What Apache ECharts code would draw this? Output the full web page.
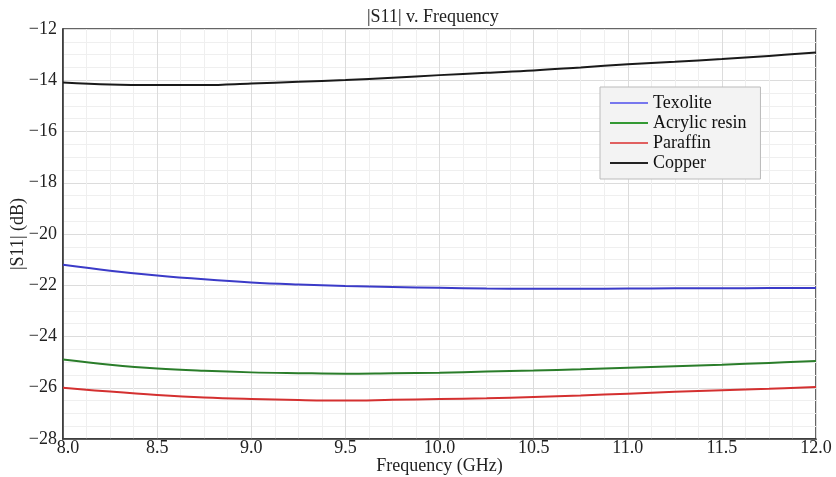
<!DOCTYPE html>
<html>
<head>
<meta charset="utf-8">
<script src="https://cdn.jsdelivr.net/npm/echarts@6/dist/echarts.min.js"></script>
<style>html,body{margin:0;padding:0;background:#fff}#c{width:836px;height:477px}</style>
</head>
<body>
<div id="c"></div>
<script>
const freq = [8.0, 8.25, 8.5, 8.75, 9.0, 9.25, 9.5, 9.75, 10.0, 10.25, 10.5, 10.75, 11.0, 11.25, 11.5, 11.75, 12.0];
const texolite = [-21.2, -21.43, -21.62, -21.77, -21.89, -21.97, -22.03, -22.07, -22.1, -22.13, -22.14, -22.14, -22.13, -22.12, -22.12, -22.11, -22.11];
const acrylic = [-24.9, -25.1, -25.25, -25.34, -25.4, -25.43, -25.45, -25.43, -25.41, -25.37, -25.33, -25.28, -25.22, -25.16, -25.1, -25.03, -24.96];
const paraffin = [-26.0, -26.15, -26.28, -26.38, -26.44, -26.48, -26.5, -26.47, -26.44, -26.41, -26.36, -26.3, -26.23, -26.16, -26.1, -26.04, -25.97];
const copper = [-14.09, -14.17, -14.19, -14.19, -14.13, -14.06, -13.99, -13.9, -13.8, -13.71, -13.62, -13.5, -13.38, -13.28, -13.17, -13.05, -12.92];
const seriesNames = ['Texolite', 'Acrylic resin', 'Paraffin', 'Copper'];
const seriesValues = [texolite, acrylic, paraffin, copper];
const lineColors = ['#3b3bc8', '#2a7d2a', '#d43030', '#1a1a1a'];
const legendColors = ['#7777ee', '#339933', '#e06060', '#222222'];

const FONT = '"Liberation Serif", "DejaVu Serif", serif';
const chart = echarts.init(document.getElementById('c'));
chart.setOption({
  animation: false,
  backgroundColor: '#fff',
  title: {
    text: '|S11| v. Frequency', left: 362, top: 3,
    textStyle: { fontFamily: FONT, fontSize: 18, fontWeight: 'normal', color: '#222' }
  },
  legend: {
    orient: 'vertical', left: 600, top: 87,
    padding: [7, 14, 7, 10],
    backgroundColor: '#f3f3f3', borderColor: '#bbbbbb', borderWidth: 1,
    icon: 'rect', itemWidth: 38, itemHeight: 2, itemGap: 2,
    textStyle: { fontFamily: FONT, fontSize: 18, color: '#111', lineHeight: 18 },
    data: seriesNames.map((n, i) => ({ name: n, itemStyle: { color: legendColors[i] } }))
  },
  grid: { left: 63, right: 20, top: 29, bottom: 38, outerBoundsMode: 'none', containLabel: false, show: true, borderColor: '#333', borderWidth: 1.5, backgroundColor: 'transparent' },
  xAxis: {
    type: 'value', min: 8, max: 12, interval: 0.5,
    name: 'Frequency (GHz)', nameLocation: 'middle', nameGap: 18, nameMoveOverlap: false,
    nameTextStyle: { fontFamily: FONT, fontSize: 18, color: '#222' },
    axisLine: { show: true, lineStyle: { color: '#333', width: 1.5 } },
    axisTick: { show: false },
    axisLabel: {
      margin: 0, fontFamily: FONT, fontSize: 18, color: '#222',
      formatter: v => v === 8 ? '{f|8.0}' : v.toFixed(1),
      rich: { f: { fontFamily: FONT, fontSize: 18, color: '#222', padding: [0, 0, 0, 10] } }
    },
    splitLine: { show: true, lineStyle: { color: '#dcdcdc', width: 1 } },
    minorTick: { show: false, splitNumber: 4 },
    minorSplitLine: { show: true, lineStyle: { color: '#efefef', width: 1 } }
  },
  yAxis: {
    type: 'value', min: -28, max: -12, interval: 2,
    name: '|S11| (dB)', nameLocation: 'middle', nameGap: 36, nameMoveOverlap: false,
    nameTextStyle: { fontFamily: FONT, fontSize: 18, color: '#222' },
    axisLine: { show: true, lineStyle: { color: '#333', width: 1.5 } },
    axisTick: { show: false },
    axisLabel: { margin: 6, fontFamily: FONT, fontSize: 18, color: '#222', formatter: v => String(v).replace('-', '\u2212') },
    splitLine: { show: true, lineStyle: { color: '#dcdcdc', width: 1 } },
    minorTick: { show: false, splitNumber: 4 },
    minorSplitLine: { show: true, lineStyle: { color: '#efefef', width: 1 } }
  },
  series: seriesNames.map((n, i) => ({
    name: n, type: 'line', smooth: 0.4, showSymbol: false,
    data: freq.map((f, j) => [f, seriesValues[i][j]]),
    lineStyle: { color: lineColors[i], width: 2 },
    itemStyle: { color: lineColors[i] }
  }))
});
</script>
</body>
</html>
